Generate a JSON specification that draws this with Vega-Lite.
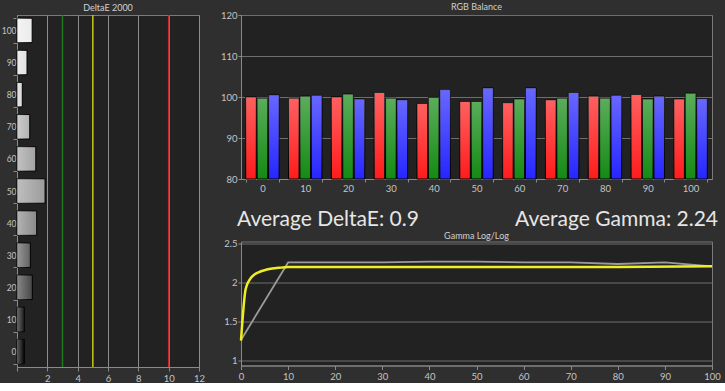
{
  "$schema": "https://vega.github.io/schema/vega-lite/v6.json",
  "background": "#2f2f2f",
  "padding": {"left": 0, "top": 2, "right": 5, "bottom": 0},
  "spacing": 13,
  "resolve": {"scale": {"color": "independent", "x": "independent", "y": "independent"}},
  "config": {
    "font": "Lato",
    "view": {"fill": "#222222", "stroke": "#7a7a7a", "strokeWidth": 1},
    "axis": {"labelColor": "#c4c4c4", "labelFont": "Lato", "labelFontSize": 9.5, "domainColor": "#8a8a8a", "tickColor": "#8a8a8a", "tickSize": 3, "labelPadding": 1, "title": null, "gridColor": "#6e6e6e", "gridOpacity": 1, "labelOverlap": false},
    "title": {"color": "#d0d0d0", "fontSize": 9, "font": "Lato", "fontWeight": "normal", "offset": -2}
  },
  "datasets": {
    "deltae": [
      {"stimulus": 100, "dE": 1.0},
      {"stimulus": 90, "dE": 0.66},
      {"stimulus": 80, "dE": 0.35},
      {"stimulus": 70, "dE": 0.84},
      {"stimulus": 60, "dE": 1.24},
      {"stimulus": 50, "dE": 1.85},
      {"stimulus": 40, "dE": 1.3},
      {"stimulus": 30, "dE": 0.88},
      {"stimulus": 20, "dE": 1.01},
      {"stimulus": 10, "dE": 0.48},
      {"stimulus": 0, "dE": 0.48}
    ],
    "thresholds": [
      {"t": 3, "level": "good"},
      {"t": 5, "level": "ok"},
      {"t": 10, "level": "bad"}
    ],
    "rgb": [
      {"level": 0, "channel": "R", "value": 100.0}, {"level": 0, "channel": "G", "value": 99.7}, {"level": 0, "channel": "B", "value": 100.5},
      {"level": 10, "channel": "R", "value": 99.7}, {"level": 10, "channel": "G", "value": 100.2}, {"level": 10, "channel": "B", "value": 100.4},
      {"level": 20, "channel": "R", "value": 100.0}, {"level": 20, "channel": "G", "value": 100.7}, {"level": 20, "channel": "B", "value": 99.5},
      {"level": 30, "channel": "R", "value": 101.1}, {"level": 30, "channel": "G", "value": 99.7}, {"level": 30, "channel": "B", "value": 99.3},
      {"level": 40, "channel": "R", "value": 98.4}, {"level": 40, "channel": "G", "value": 99.9}, {"level": 40, "channel": "B", "value": 101.8},
      {"level": 50, "channel": "R", "value": 98.9}, {"level": 50, "channel": "G", "value": 98.9}, {"level": 50, "channel": "B", "value": 102.2},
      {"level": 60, "channel": "R", "value": 98.6}, {"level": 60, "channel": "G", "value": 99.5}, {"level": 60, "channel": "B", "value": 102.2},
      {"level": 70, "channel": "R", "value": 99.3}, {"level": 70, "channel": "G", "value": 99.7}, {"level": 70, "channel": "B", "value": 101.1},
      {"level": 80, "channel": "R", "value": 100.2}, {"level": 80, "channel": "G", "value": 99.7}, {"level": 80, "channel": "B", "value": 100.4},
      {"level": 90, "channel": "R", "value": 100.6}, {"level": 90, "channel": "G", "value": 99.5}, {"level": 90, "channel": "B", "value": 100.2},
      {"level": 100, "channel": "R", "value": 99.5}, {"level": 100, "channel": "G", "value": 100.9}, {"level": 100, "channel": "B", "value": 99.6}
    ],
    "gamma": [
      {"series": "measured", "x": 0, "g": 1.26},
      {"series": "measured", "x": 10, "g": 2.26},
      {"series": "measured", "x": 20, "g": 2.26},
      {"series": "measured", "x": 30, "g": 2.26},
      {"series": "measured", "x": 40, "g": 2.27},
      {"series": "measured", "x": 50, "g": 2.27},
      {"series": "measured", "x": 60, "g": 2.26},
      {"series": "measured", "x": 70, "g": 2.26},
      {"series": "measured", "x": 80, "g": 2.24},
      {"series": "measured", "x": 90, "g": 2.26},
      {"series": "measured", "x": 100, "g": 2.21},
      {"series": "target", "x": 0, "g": 1.25},
      {"series": "target", "x": 1, "g": 1.92},
      {"series": "target", "x": 2, "g": 2.05},
      {"series": "target", "x": 3, "g": 2.11},
      {"series": "target", "x": 4, "g": 2.14},
      {"series": "target", "x": 5, "g": 2.16},
      {"series": "target", "x": 6, "g": 2.175},
      {"series": "target", "x": 8, "g": 2.19},
      {"series": "target", "x": 10, "g": 2.2},
      {"series": "target", "x": 20, "g": 2.2},
      {"series": "target", "x": 40, "g": 2.2},
      {"series": "target", "x": 60, "g": 2.2},
      {"series": "target", "x": 80, "g": 2.2},
      {"series": "target", "x": 100, "g": 2.21}
    ],
    "summary": [
      {"label": "Average DeltaE: 0.9", "pos": 0, "side": "left"},
      {"label": "Average Gamma: 2.24", "pos": 100, "side": "right"}
    ]
  },
  "hconcat": [
    {
      "title": "DeltaE 2000",
      "width": 182,
      "height": 352,
      "resolve": {"scale": {"color": "independent"}},
      "layer": [
        {
          "data": {"name": "deltae"},
          "mark": {"type": "bar", "stroke": "#000000", "strokeWidth": 1},
          "encoding": {
            "x": {"field": "dE", "type": "quantitative", "scale": {"domain": [0, 12], "nice": false},
              "axis": {"tickCount": 6, "labelExpr": "datum.value == 0 ? '' : datum.label", "labelOverlap": false, "labelFlush": false, "grid": true, "gridColor": "#8c8c8c", "tickSize": 4, "labelPadding": 2}},
            "y": {"field": "stimulus", "type": "ordinal", "sort": "descending",
              "scale": {"paddingInner": 0.24, "paddingOuter": 0.1},
              "axis": {"tickBand": "extent", "tickSize": 4, "labelPadding": -3, "labelFontSize": 8.5, "grid": false}},
            "color": {"field": "stimulus", "type": "ordinal",
              "scale": {"domain": [0, 10, 20, 30, 40, 50, 60, 70, 80, 90, 100], "range": ["#060606", "#1c1c1c", "#474747", "#626262", "#8a8a8a", "#9c9c9c", "#a2a2a2", "#b2b2b2", "#d6d6d6", "#e2e2e2", "#ececec"]}, "legend": null}
          }
        },
        {
          "data": {"name": "deltae"},
          "mark": {"type": "bar", "fill": {"gradient": "linear", "x1": 0, "y1": 0, "x2": 1, "y2": 0, "stops": [{"offset": 0, "color": "rgba(255,255,255,0.35)"}, {"offset": 1, "color": "rgba(255,255,255,0)"}]}},
          "encoding": {
            "x": {"field": "dE", "type": "quantitative"},
            "y": {"field": "stimulus", "type": "ordinal", "sort": "descending"}
          }
        },
        {
          "data": {"name": "thresholds"},
          "mark": {"type": "rule", "strokeWidth": 1.5},
          "encoding": {
            "x": {"field": "t", "type": "quantitative"},
            "color": {"field": "level", "type": "nominal", "scale": {"domain": ["good", "ok", "bad"], "range": ["#1f7a1f", "#c8c81e", "#c42a2a"]}, "legend": null}
          }
        }
      ]
    },
    {
      "spacing": 15.5,
      "resolve": {"scale": {"color": "independent", "x": "independent", "y": "independent"}},
      "vconcat": [
        {
          "title": "RGB Balance",
          "width": 471,
          "height": 164,
          "data": {"name": "rgb"},
          "layer": [
            {
              "mark": {"type": "bar", "stroke": "#000000", "strokeWidth": 1},
              "encoding": {
                "x": {"field": "level", "type": "ordinal", "scale": {"paddingInner": 0.22, "paddingOuter": 0.11}, "axis": {"labelAngle": 0, "tickBand": "extent", "grid": false}},
                "xOffset": {"field": "channel", "type": "nominal", "sort": ["R", "G", "B"], "scale": {"paddingInner": 0.08}},
                "y": {"field": "value", "type": "quantitative", "scale": {"domain": [80, 120], "zero": false, "nice": false}, "axis": {"values": [80, 90, 100, 110, 120], "grid": true}},
                "y2": {"datum": 80},
                "color": {"field": "channel", "type": "nominal", "scale": {"domain": ["R", "G", "B"], "range": ["#ff1c1c", "#148a14", "#2626ff"]}, "legend": null}
              }
            },
            {
              "mark": {"type": "bar", "fill": {"gradient": "linear", "x1": 0, "y1": 0, "x2": 0, "y2": 1, "stops": [{"offset": 0, "color": "rgba(255,255,255,0.3)"}, {"offset": 1, "color": "rgba(255,255,255,0)"}]}},
              "encoding": {
                "x": {"field": "level", "type": "ordinal"},
                "xOffset": {"field": "channel", "type": "nominal", "sort": ["R", "G", "B"]},
                "y": {"field": "value", "type": "quantitative"},
                "y2": {"datum": 80}
              }
            }
          ]
        },
        {
          "spacing": 0,
          "vconcat": [
            {
              "width": 471,
              "height": 17,
              "view": {"fill": null, "stroke": null},
              "data": {"name": "summary"},
              "layer": [
                {
                  "transform": [{"filter": "datum.side == 'left'"}],
                  "mark": {"type": "text", "align": "left", "baseline": "middle", "fontSize": 21, "color": "#e6e6e6", "font": "Lato"},
                  "encoding": {
                    "x": {"field": "pos", "type": "quantitative", "scale": {"domain": [0.83, 98.75], "nice": false, "zero": false}, "axis": null},
                    "text": {"field": "label"}
                  }
                },
                {
                  "transform": [{"filter": "datum.side == 'right'"}],
                  "mark": {"type": "text", "align": "right", "baseline": "middle", "fontSize": 21, "color": "#e6e6e6", "font": "Lato"},
                  "encoding": {
                    "x": {"field": "pos", "type": "quantitative", "axis": null},
                    "text": {"field": "label"}
                  }
                }
              ]
            },
            {
              "title": "Gamma Log/Log",
              "width": 471,
              "height": 124,
              "data": {"name": "gamma"},
              "encoding": {
                "x": {"field": "x", "type": "quantitative", "scale": {"domain": [0, 100], "nice": false}, "axis": {"values": [0, 10, 20, 30, 40, 50, 60, 70, 80, 90, 100], "labelFlush": false, "grid": false, "tickSize": 4, "labelPadding": 2}},
                "y": {"field": "g", "type": "quantitative", "scale": {"domain": [0.93, 2.53], "zero": false, "nice": false}, "axis": {"values": [1, 1.5, 2, 2.5], "format": "~g", "grid": true}}
              },
              "layer": [
                {
                  "transform": [{"filter": "datum.series == 'measured'"}],
                  "mark": {"type": "line", "color": "#9a9a9a", "strokeWidth": 1.8}
                },
                {
                  "transform": [{"filter": "datum.series == 'target'"}],
                  "mark": {"type": "line", "color": "#eeee22", "strokeWidth": 2.5, "interpolate": "monotone"}
                }
              ]
            }
          ]
        }
      ]
    }
  ]
}
